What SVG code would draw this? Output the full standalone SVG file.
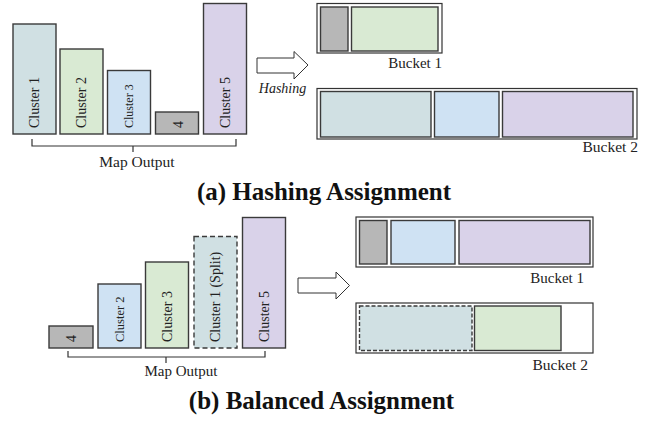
<svg xmlns="http://www.w3.org/2000/svg" width="652" height="421" viewBox="0 0 652 421">
<style>
.bar{stroke:#3a3a3a;stroke-width:1.4}
.dash{stroke-dasharray:5 3}
.c1{fill:#d0e0e3}.c2{fill:#d9ead3}.c3{fill:#cfe2f3}.c4{fill:#b7b7b7}.c5{fill:#d9d2e9}
.bucket{fill:#fff;stroke:#333;stroke-width:1.2}
.lbl{font-family:"Liberation Serif","Times New Roman",serif;fill:#222}
.vl{font-family:"Liberation Serif","Times New Roman",serif;fill:#222;dominant-baseline:central;text-anchor:start}
.title{font-family:"Liberation Serif","Times New Roman",serif;font-weight:bold;font-size:25px;fill:#111;text-anchor:middle}
.brk{fill:none;stroke:#333;stroke-width:1.2}
.arrow{fill:#fff;stroke:#333;stroke-width:1}
</style>

<!-- (a) Hashing -->
<g id="a-cluster1"><rect class="bar c1" x="13" y="24" width="43" height="110"/><text class="vl" font-size="14" transform="translate(34.5,128) rotate(-90)">Cluster 1</text></g>
<g id="a-cluster2"><rect class="bar c2" x="60" y="49" width="43" height="85"/><text class="vl" font-size="14" transform="translate(81.5,128) rotate(-90)">Cluster 2</text></g>
<g id="a-cluster3"><rect class="bar c3" x="107.5" y="70.5" width="43" height="63.5"/><text class="vl" font-size="12" transform="translate(129,128) rotate(-90)">Cluster 3</text></g>
<g id="a-cluster4"><rect class="bar c4" x="155.5" y="112" width="43" height="22"/><text class="vl" font-size="14" transform="translate(178,128) rotate(-90)">4</text></g>
<g id="a-cluster5"><rect class="bar c5" x="203.5" y="3.5" width="43" height="130.5"/><text class="vl" font-size="14" transform="translate(225,128) rotate(-90)">Cluster 5</text></g>

<g id="a-bucket1"><rect class="bucket" x="317" y="3.5" width="125" height="49.5"/><rect class="bar c4" x="320.5" y="7" width="27.5" height="44"/><rect class="bar c2" x="351.5" y="7" width="86.5" height="44"/><text class="lbl" font-size="15" x="442" y="68" text-anchor="end">Bucket 1</text></g>
<g id="a-bucket2"><rect class="bucket" x="317" y="88.5" width="320" height="50.5"/><rect class="bar c1" x="320.5" y="91.5" width="110.5" height="45.5"/><rect class="bar c3" x="434.5" y="91.5" width="64.5" height="45.5"/><rect class="bar c5" x="502.5" y="91.5" width="130.5" height="45.5"/><text class="lbl" font-size="15.5" x="638" y="152" text-anchor="end">Bucket 2</text></g>

<g id="a-mapoutput"><path class="brk" d="M32,139V146H236V139M133,146V152"/><text class="lbl" font-size="15.5" x="137" y="167" text-anchor="middle">Map Output</text></g>

<g id="a-arrow"><path class="arrow" d="M257,58H294V51.5L308,65L294,79V73H257Z"/><text class="lbl" font-size="14" font-style="italic" x="282.5" y="93" text-anchor="middle">Hashing</text></g>

<text class="title" x="324" y="200">(a) Hashing Assignment</text>

<!-- (b) Balanced -->
<g id="b-cluster4"><rect class="bar c4" x="49" y="326" width="44" height="22"/><text class="vl" font-size="14" transform="translate(71,342) rotate(-90)">4</text></g>
<g id="b-cluster2"><rect class="bar c3" x="98" y="284" width="43" height="64"/><text class="vl" font-size="12.5" transform="translate(119.5,342) rotate(-90)">Cluster 2</text></g>
<g id="b-cluster3"><rect class="bar c2" x="145.5" y="262" width="43" height="86"/><text class="vl" font-size="14" transform="translate(167,342) rotate(-90)">Cluster 3</text></g>
<g id="b-cluster1"><rect class="bar c1 dash" x="194" y="236.5" width="43" height="111.5"/><text class="vl" font-size="14" transform="translate(215.5,342) rotate(-90)">Cluster 1 (Split)</text></g>
<g id="b-cluster5"><rect class="bar c5" x="242.5" y="217.5" width="43" height="130.5"/><text class="vl" font-size="14" transform="translate(264,342) rotate(-90)">Cluster 5</text></g>

<g id="b-mapoutput"><path class="brk" d="M68,351V357H265V351M166,357V363"/><text class="lbl" font-size="15" x="181" y="376" text-anchor="middle">Map Output</text></g>

<g id="b-arrow"><path class="arrow" d="M298,278H336V272L349.5,285.5L336,299V293H298Z"/></g>

<g id="b-bucket1"><rect class="bucket" x="356" y="217" width="237" height="50"/><rect class="bar c4" x="359.5" y="220.5" width="27.5" height="43.5"/><rect class="bar c3" x="391" y="220.5" width="64" height="43.5"/><rect class="bar c5" x="459" y="220.5" width="131" height="43.5"/><text class="lbl" font-size="15" x="584" y="283" text-anchor="end">Bucket 1</text></g>
<g id="b-bucket2"><rect class="bucket" x="356" y="303" width="237" height="50"/><rect class="bar c1" x="359.5" y="306" width="112.5" height="44.5" stroke-dasharray="4 2"/><rect class="bar c2" x="474.5" y="306" width="86.5" height="44.5"/><text class="lbl" font-size="15.5" x="588" y="370" text-anchor="end">Bucket 2</text></g>

<text class="title" x="321.5" y="409">(b) Balanced Assignment</text>
</svg>
